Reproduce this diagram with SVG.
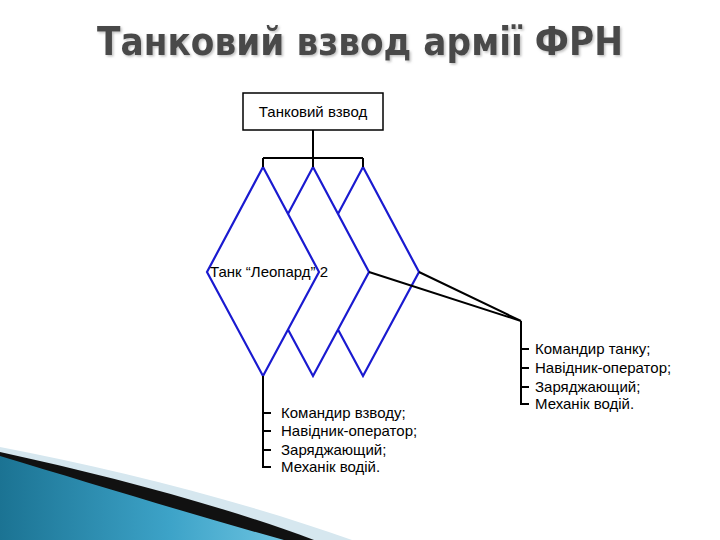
<svg xmlns="http://www.w3.org/2000/svg" width="720" height="540" viewBox="0 0 720 540">
<defs>
<linearGradient id="wedge" x1="0" y1="0" x2="1" y2="0">
<stop offset="0" stop-color="#1b7393"/>
<stop offset="0.6" stop-color="#3da3c8"/>
<stop offset="1" stop-color="#6cc3e0"/>
</linearGradient>
<filter id="shadow" x="-5%" y="-20%" width="110%" height="150%">
<feDropShadow dx="1.5" dy="1.5" stdDeviation="0.8" flood-color="#b0b0b0" flood-opacity="0.8"/>
</filter>
<style>
.t{font-family:"Liberation Sans",Arial,sans-serif;font-size:15px;fill:#000}
.ttl{font-family:"DejaVu Sans","Liberation Sans",sans-serif;font-size:39px;font-weight:bold;fill:#4a4a4a}
.dia{fill:#fff;stroke:#1a1ad0;stroke-width:2.2;stroke-linejoin:miter}
.ln{fill:none;stroke:#000;stroke-width:2}
.box{fill:#fff;stroke:#000;stroke-width:1.5}
</style>
</defs>
<rect width="720" height="540" fill="#fff"/>
<g id="decor">
<path d="M0,447 C110,468 240,500 352,540 L0,540Z" fill="#d6e7ef"/>
<path d="M0,452 C110,476 220,505 314,540 L0,540Z" fill="#111"/>
<path d="M0,456 C90,483 190,514 284,540 L0,540Z" fill="url(#wedge)"/>
</g>
<g id="title" filter="url(#shadow)">
<text class="ttl" x="97" y="55" textLength="526" lengthAdjust="spacingAndGlyphs">Танковий взвод армії ФРН</text>
</g>
<g id="platoon">
<rect class="box" x="243" y="93" width="140" height="37"/>
<text class="t" x="313" y="117" text-anchor="middle">Танковий взвод</text>
</g>
<g id="tank3">
<polygon class="dia" points="363,167 419,272 363,376 307,272"/>
</g>
<g id="tank2">
<polygon class="dia" points="313,167 369,272 313,376 257,272"/>
</g>
<g id="tank1">
<polygon class="dia" points="263,167 319,272 263,376 207,272"/>
<text class="t" x="210" y="277">Танк “Леопард” 2</text>
</g>
<g id="connectors">
<path class="ln" d="M313,130 V158 M263,158 H363 M263,158 V167 M313,158 V167 M363,158 V167"/>
<path class="ln" d="M369,272 L521,321 M419,272 L521,321"/>
<path class="ln" d="M263,376 V467 H271 M263,413 H271 M263,431 H271 M263,450 H271"/>
<path class="ln" d="M521,321 V404 H529 M521,349 H529 M521,368 H529 M521,387 H529"/>
</g>
<g id="crew-platoon">
<text class="t" x="281" y="418">Командир взводу;</text>
<text class="t" x="281" y="436">Навідник-оператор;</text>
<text class="t" x="281" y="455">Заряджающий;</text>
<text class="t" x="281" y="472">Механік водій.</text>
</g>
<g id="crew-tank">
<text class="t" x="535" y="354">Командир танку;</text>
<text class="t" x="535" y="373">Навідник-оператор;</text>
<text class="t" x="535" y="392">Заряджающий;</text>
<text class="t" x="535" y="409">Механік водій.</text>
</g>
</svg>
